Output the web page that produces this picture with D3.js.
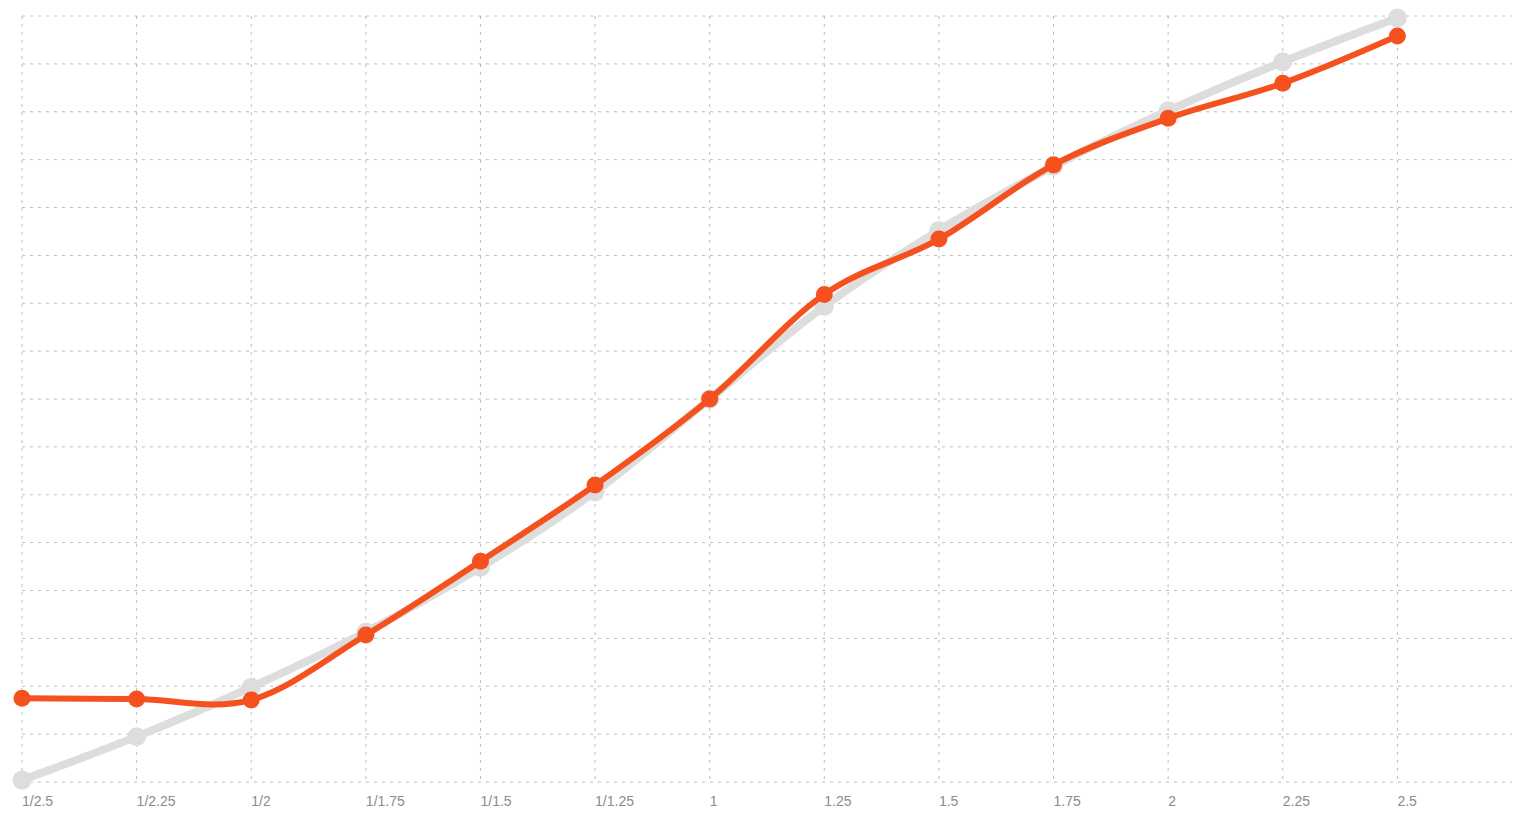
<!DOCTYPE html>
<html>
<head>
<meta charset="utf-8">
<script src="https://cdn.jsdelivr.net/npm/d3@7"></script>
<style>
    html, body { margin: 0; padding: 0; background: #fff; }
    svg { display: block; }
    .label { font-family: "Liberation Sans", Arial, Helvetica, sans-serif; font-size: 14px; fill: #8c8c8c; }
</style>
</head>
<body>
<div id="chart"></div>
<script>
    // x categories (ratio labels)
    const labels = ['1/2.5', '1/2.25', '1/2', '1/1.75', '1/1.5', '1/1.25', '1', '1.25', '1.5', '1.75', '2', '2.25', '2.5'];

    // reference series: the ratio itself
    const expected = [0.4, 0.444, 0.5, 0.571, 0.667, 0.8, 1, 1.25, 1.5, 1.75, 2, 2.25, 2.5];

    // measured series
    const measured = [0.487, 0.486, 0.485, 0.567, 0.677, 0.813, 1.0, 1.286, 1.469, 1.756, 1.964, 2.137, 2.394];

    // grid in log10 units
    const yTicks = d3.range(-8, 9).map(k => k * 0.05);

    (() => {
        const width = 1527, height = 816;
        const mLeft = 22, mRight = 1512, mTop = 16, mBottom = 782;

        // labels sit at the start of each slot, last slot stays empty
        const x = d3.scaleBand().domain(d3.range(labels.length)).range([mLeft, mRight]).padding(0);
        const y = d3.scaleLinear().domain([-0.4, 0.4]).range([mBottom, mTop]);

        const svg = d3.create('svg')
            .attr('width', width).attr('height', height)
            .attr('viewBox', [0, 0, width, height]);

        const grid = svg.append('g')
            .attr('stroke', 'rgba(0,0,0,0.26)')
            .attr('stroke-width', 1)
            .attr('stroke-dasharray', '3 5')
            .attr('fill', 'none');

        grid.selectAll('line.h')
            .data(yTicks)
            .join('line')
            .attr('class', 'h')
            .attr('x1', mLeft).attr('x2', mRight)
            .attr('y1', d => y(d)).attr('y2', d => y(d));

        grid.selectAll('line.v')
            .data(labels)
            .join('line')
            .attr('class', 'v')
            .attr('x1', (d, i) => x(i)).attr('x2', (d, i) => x(i))
            .attr('y1', mTop).attr('y2', mBottom);

        svg.append('g')
            .selectAll('text')
            .data(labels)
            .join('text')
            .attr('class', 'label')
            .attr('x', (d, i) => x(i))
            .attr('y', mBottom + 24)
            .text(d => d);

        const line = d3.line()
            .x((d, i) => x(i))
            .y(d => y(Math.log10(d)))
            .curve(d3.curveCardinal.tension(0));

        const series = [
            {values: expected, color: '#dddddd', width: 8, r: 9.5},
            {values: measured, color: '#f4511e', width: 6, r: 8.5}
        ];

        series.forEach(s => {
            const g = svg.append('g');
            g.append('path')
                .attr('d', line(s.values))
                .attr('fill', 'none')
                .attr('stroke', s.color)
                .attr('stroke-width', s.width)
                .attr('stroke-linejoin', 'round');
            g.selectAll('circle')
                .data(s.values)
                .join('circle')
                .attr('cx', (d, i) => x(i))
                .attr('cy', d => y(Math.log10(d)))
                .attr('r', s.r)
                .attr('fill', s.color);
        });

        document.querySelector('#chart').appendChild(svg.node());
    })();
</script>
</body>
</html>
